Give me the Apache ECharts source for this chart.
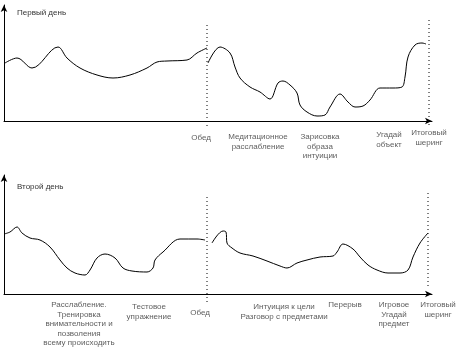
<!DOCTYPE html>
<html><head><meta charset="utf-8">
<script src="https://cdn.jsdelivr.net/npm/echarts@6/dist/echarts.min.js"></script>
<style>html,body{margin:0;padding:0;background:#fff}#c{width:457px;height:348px}</style>
</head><body><div id="c"></div>
<script>
const titles = ['Первый день', 'Второй день'];

// Day 1 curve (time units along axis, level)
const day1MorningX = [1,13,28,54,63,76,93,109,126,143,153,163,183,193,203];
const day1MorningY = [58,63,53,74,63,53,46,43,46,53,59,60,61,68,73];
const day1AfternoonX = [204,216,226,231,236,246,256,266,274,279,286,293,296,303,313,321,326,336,344,351,359,366,376,389,398,401,404,411,418,422];
const day1AfternoonY = [58,74,68,54,43,34,29,22,38,40,36,28,16,9,5,6,14,27,19,14,15,21,33,33,34,44,64,76,78,77];

// Day 2 curve
const day2MorningX = [0,6,13,18,26,36,46,56,63,71,81,86,93,101,111,119,128,143,149,151,159,176,193,201];
const day2MorningY = [60,62,67,61,56,54,47,34,26,21,19,24,36,40,36,26,23,22,26,34,42,55,55,54];
const day2AfternoonX = [208,219,222,223,228,236,249,263,276,283,293,303,316,329,333,339,349,356,364,373,384,396,404,409,416,424];
const day2AfternoonY = [51,63,62,51,46,41,38,33,28,26,31,34,37,38,42,50,45,37,29,24,21,21,24,37,51,61];

// Dotted session dividers: x, upper level, lower level
const day1DividerX = [203, 425];
const day1DividerTop = [96, 101];
const day1DividerBottom = [-7, -4];
const day2DividerX = [203, 424];
const day2DividerTop = [97, 101];
const day2DividerBottom = [-11, 6];

// Activity labels
const day1LabelX = [197, 254, 316, 385, 425];
const day1Labels = ['Обед', 'Медитационное\nрасслабление', 'Зарисовка\nобраза\nинтуиции', 'Угадай\nобъект', 'Итоговый\nшеринг'];
const day2LabelX = [75, 145, 196, 280, 341, 390, 434];
const day2Labels = ['Расслабление.\nТренировка\nвнимательности и\nпозволения\nвсему происходить', 'Тестовое\nупражнение', 'Обед', 'Интуиция к цели\nРазговор с предметами', 'Перерыв', 'Игровое\nУгадай\nпредмет', 'Итоговый\nшеринг'];

// label vertical gaps below axis (style)
const day1LabelGap = [12, 11, 11, 9, 7];
const day2LabelGap = [6, 8, 14, 8, 6, 6, 6];

const FONT = 'Liberation Sans, Arial, sans-serif';
const zip = (xs, ys) => xs.map((x, i) => [x, ys[i]]);

function curve(idx, xs, ys) {
  return {
    type: 'line', xAxisIndex: idx, yAxisIndex: idx,
    data: zip(xs, ys), smooth: 0.35, symbol: 'none', silent: true,
    lineStyle: { color: '#000', width: 1 }
  };
}
function divider(idx, x, top, bottom) {
  return {
    type: 'line', xAxisIndex: idx, yAxisIndex: idx, clip: false,
    data: [[x, top], [x, bottom]], symbol: 'none', silent: true,
    lineStyle: { color: '#000', width: 1, type: [1, 3] }
  };
}
function labels(idx, xs, texts, gaps) {
  return {
    type: 'scatter', xAxisIndex: idx, yAxisIndex: idx, clip: false, silent: true,
    symbolSize: 1, itemStyle: { color: 'transparent' },
    data: xs.map((x, i) => ({
      value: [x, 0], name: texts[i],
      label: { distance: gaps[i] }
    })),
    label: {
      show: true, position: 'bottom', formatter: p => p.name,
      fontFamily: FONT, fontSize: 8, lineHeight: 9.5, color: '#333', align: 'center'
    },
    z: 5
  };
}

const axisLineStyle = { color: '#000', width: 1 };
function xAxis(idx) {
  return {
    type: 'value', gridIndex: idx, min: 0, max: 428,
    axisLine: { show: true, lineStyle: axisLineStyle, symbol: ['none', 'arrow'], symbolSize: [5, 7] },
    axisTick: { show: false }, axisLabel: { show: false }, splitLine: { show: false }
  };
}
function yAxis(idx, max) {
  return {
    type: 'value', gridIndex: idx, min: 0, max: max,
    axisLine: { show: true, onZero: false, lineStyle: axisLineStyle, symbol: ['none', 'arrow'], symbolSize: [5, 7] },
    axisTick: { show: false }, axisLabel: { show: false }, splitLine: { show: false }
  };
}

const series = [];
const d1 = [];
for (let i = 0; i < day1DividerX.length; i++) series.push(divider(0, day1DividerX[i], day1DividerTop[i], day1DividerBottom[i]));
for (let i = 0; i < day2DividerX.length; i++) series.push(divider(1, day2DividerX[i], day2DividerTop[i], day2DividerBottom[i]));
series.push(curve(0, day1MorningX, day1MorningY));
series.push(curve(0, day1AfternoonX, day1AfternoonY));
series.push(curve(1, day2MorningX, day2MorningY));
series.push(curve(1, day2AfternoonX, day2AfternoonY));
series.push(labels(0, day1LabelX, day1Labels, day1LabelGap));
series.push(labels(1, day2LabelX, day2Labels, day2LabelGap));

const chart = echarts.init(document.getElementById('c'), null, { renderer: 'canvas' });
chart.setOption({
  animation: false,
  backgroundColor: '#fff',
  title: [
    { text: titles[0], left: 12, top: 4, textStyle: { fontFamily: FONT, fontSize: 8, fontWeight: 'normal', color: '#333' } },
    { text: titles[1], left: 12, top: 178, textStyle: { fontFamily: FONT, fontSize: 8, fontWeight: 'normal', color: '#333' } }
  ],
  grid: [
    { left: 4, top: 5, width: 428, height: 116 },
    { left: 4, top: 175, width: 428, height: 119 }
  ],
  xAxis: [xAxis(0), xAxis(1)],
  yAxis: [yAxis(0, 116), yAxis(1, 119)],
  series: series
});
</script>
</body></html>
